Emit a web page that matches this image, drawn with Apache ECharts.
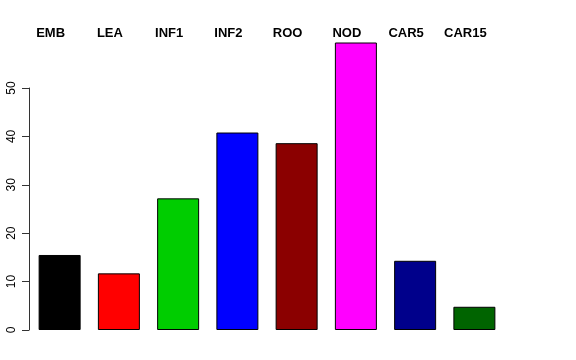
<!DOCTYPE html>
<html>
<head>
<meta charset="utf-8">
<script src="https://cdn.jsdelivr.net/npm/echarts@6/dist/echarts.min.js"></script>
<style>html,body{margin:0;padding:0;background:#fff}#c{width:576px;height:360px}</style>
</head>
<body>
<div id="c"></div>
<script>
var categories = ['EMB', 'LEA', 'INF1', 'INF2', 'ROO', 'NOD', 'CAR5', 'CAR15'];
var values = [15.5, 11.7, 27.2, 40.8, 38.6, 59.4, 14.3, 4.8];
var barColors = ['#000000', '#FF0000', '#00CD00', '#0000FF', '#8B0000', '#FF00FF', '#00008B', '#006400'];
var yTicks = [0, 10, 20, 30, 40, 50];

var chart = echarts.init(document.getElementById('c'), null, {renderer: 'canvas'});
chart.setOption({
  backgroundColor: '#ffffff',
  animation: false,
  textStyle: {fontFamily: 'Liberation Sans'},
  grid: [
    {left: 30, width: 474, top: 88, bottom: 30},
    {left: 21, width: 474, top: 88, bottom: 30}
  ],
  xAxis: [
    {type: 'category', gridIndex: 0, data: categories,
     axisLine: {show: false}, axisTick: {show: false}, axisLabel: {show: false}, splitLine: {show: false}},
    {type: 'category', gridIndex: 1, position: 'top', data: categories,
     axisLine: {show: false}, axisTick: {show: false}, splitLine: {show: false},
     axisLabel: {show: true, fontWeight: 'bold', fontSize: 13, color: '#000', margin: 48, fontFamily: 'Liberation Sans'}}
  ],
  yAxis: [
    {type: 'value', gridIndex: 0, min: yTicks[0], max: yTicks[yTicks.length - 1], interval: 10, offset: 1,
     axisLine: {show: true, lineStyle: {color: '#333', width: 1}},
     axisTick: {show: true, length: 7, lineStyle: {color: '#333', width: 1}},
     splitLine: {show: false},
     axisLabel: {rotate: 90, fontSize: 12, color: '#000', margin: 11, fontFamily: 'Liberation Sans'}},
    {type: 'value', gridIndex: 1, show: false}
  ],
  series: [{
    type: 'bar',
    xAxisIndex: 0, yAxisIndex: 0,
    clip: false,
    barWidth: 42,
    data: values.map(function (v, i) {
      return {value: v, itemStyle: {color: barColors[i], borderColor: '#000', borderWidth: 1}};
    })
  }]
});
</script>
</body>
</html>
